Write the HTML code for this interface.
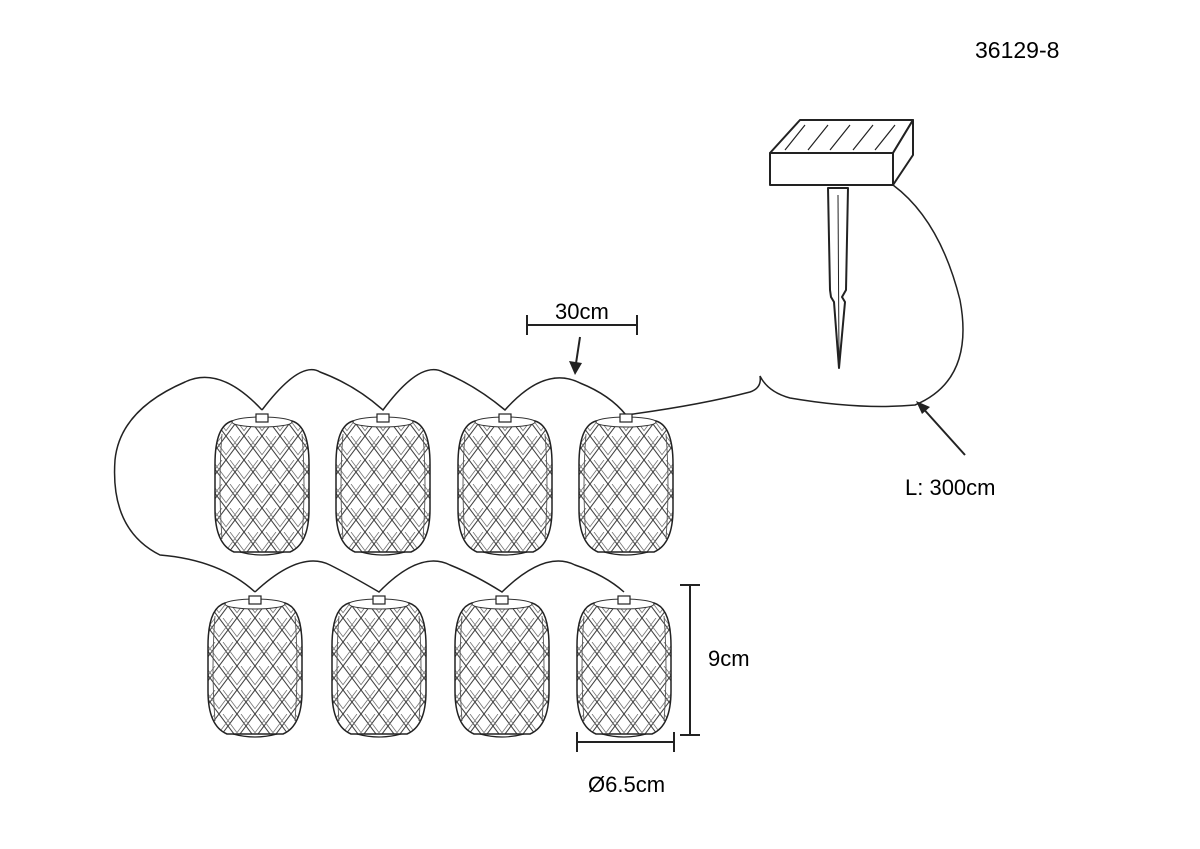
<!DOCTYPE html>
<html><head><style>body{margin:0;background:#fff}svg{display:block}</style></head><body>
<svg width="1200" height="849" viewBox="0 0 1200 849" xmlns="http://www.w3.org/2000/svg" font-family="Liberation Sans, sans-serif">
<defs>
<pattern id="w" width="18" height="24" patternUnits="userSpaceOnUse">
<path d="M0,0 L18,24 M0,24 L18,0 M-9,12 L0,24 M-9,12 L0,0 M18,0 L27,12 M18,24 L27,12" stroke="#444" stroke-width="1.1"/>
<path d="M4,0 L22,24 M-4,24 L14,0" stroke="#777" stroke-width="0.8"/>
</pattern>
<g id="L">
<path d="M-30,-63 Q-47,-58 -47,-20 L-47,25 Q-47,60 -28,68 L28,68 Q47,60 47,25 L47,-20 Q47,-58 30,-63 Q0,-70 -30,-63Z" fill="url(#w)" stroke="#222" stroke-width="1.5"/>
<path d="M-40,-50 Q-44,0 -40,55 M40,-50 Q44,0 40,55" fill="none" stroke="#555" stroke-width="0.9"/>
<ellipse cx="0" cy="-62" rx="30" ry="5" fill="#fff" stroke="#333" stroke-width="1"/>
<rect x="-6" y="-70" width="12" height="8" fill="#fff" stroke="#222" stroke-width="1.2"/>
<path d="M-22,68 Q0,74 22,68" fill="none" stroke="#222" stroke-width="1.2"/>
</g>
</defs>
<text x="975" y="58" font-size="23">36129-8</text>
<g fill="none" stroke="#222" stroke-width="1.5">
<path d="M262,410 Q300,360 320,372 Q355,385 383,410 Q420,360 443,372 Q475,385 505,410 Q545,365 580,383 Q610,395 626,415"/>
<path d="M262,410 Q220,365 185,382 Q120,410 115,460 Q110,530 160,555 Q220,560 255,592"/>
<path d="M255,592 Q300,550 330,565 Q350,575 379,592 Q420,550 450,565 Q475,575 502,592 Q545,550 575,565 Q605,575 624,592"/>
<path d="M626,415 Q700,405 750,392 Q762,388 760,376 Q768,392 790,398 Q860,410 915,405 Q975,380 960,300 Q940,220 893,185"/>
</g>
<use href="#L" x="262" y="484"/><use href="#L" x="383" y="484"/><use href="#L" x="505" y="484"/><use href="#L" x="626" y="484"/>
<use href="#L" x="255" y="666"/><use href="#L" x="379" y="666"/><use href="#L" x="502" y="666"/><use href="#L" x="624" y="666"/>
<g fill="#fff" stroke="#222" stroke-width="2" stroke-linejoin="round">
<path d="M828,188 L848,188 L846,290 L842,297 L845,302 L839,368 L834,302 L831,297 L830,290Z"/>
<path d="M838,195 L839,360" stroke-width="1"/>
<path d="M770,153 L800,120 L913,120 L893,153Z"/>
<rect x="770" y="153" width="123" height="32"/>
<path d="M893,153 L913,120 L913,155 L893,185Z"/>
<path d="M805,125 L785,150 M828,125 L808,150 M850,125 L830,150 M873,125 L853,150 M895,125 L875,150" stroke-width="1.2"/>
</g>
<g stroke="#222" stroke-width="2" fill="none">
<path d="M527,325 H637 M527,315 V335 M637,315 V335"/>
<path d="M580,337 L575,370"/>
<path d="M690,585 V735 M680,585 H700 M680,735 H700"/>
<path d="M577,742 H674 M577,732 V752 M674,732 V752"/>
<path d="M965,455 L920,405"/>
</g>
<path d="M575,375 L569,361 L582,363Z" fill="#222"/>
<path d="M916,401 L930,407 L922,414Z" fill="#222"/>
<text x="555" y="319" font-size="22">30cm</text>
<text x="905" y="495" font-size="22">L: 300cm</text>
<text x="708" y="666" font-size="22">9cm</text>
<text x="588" y="792" font-size="22">Ø6.5cm</text>
</svg>
</body></html>
